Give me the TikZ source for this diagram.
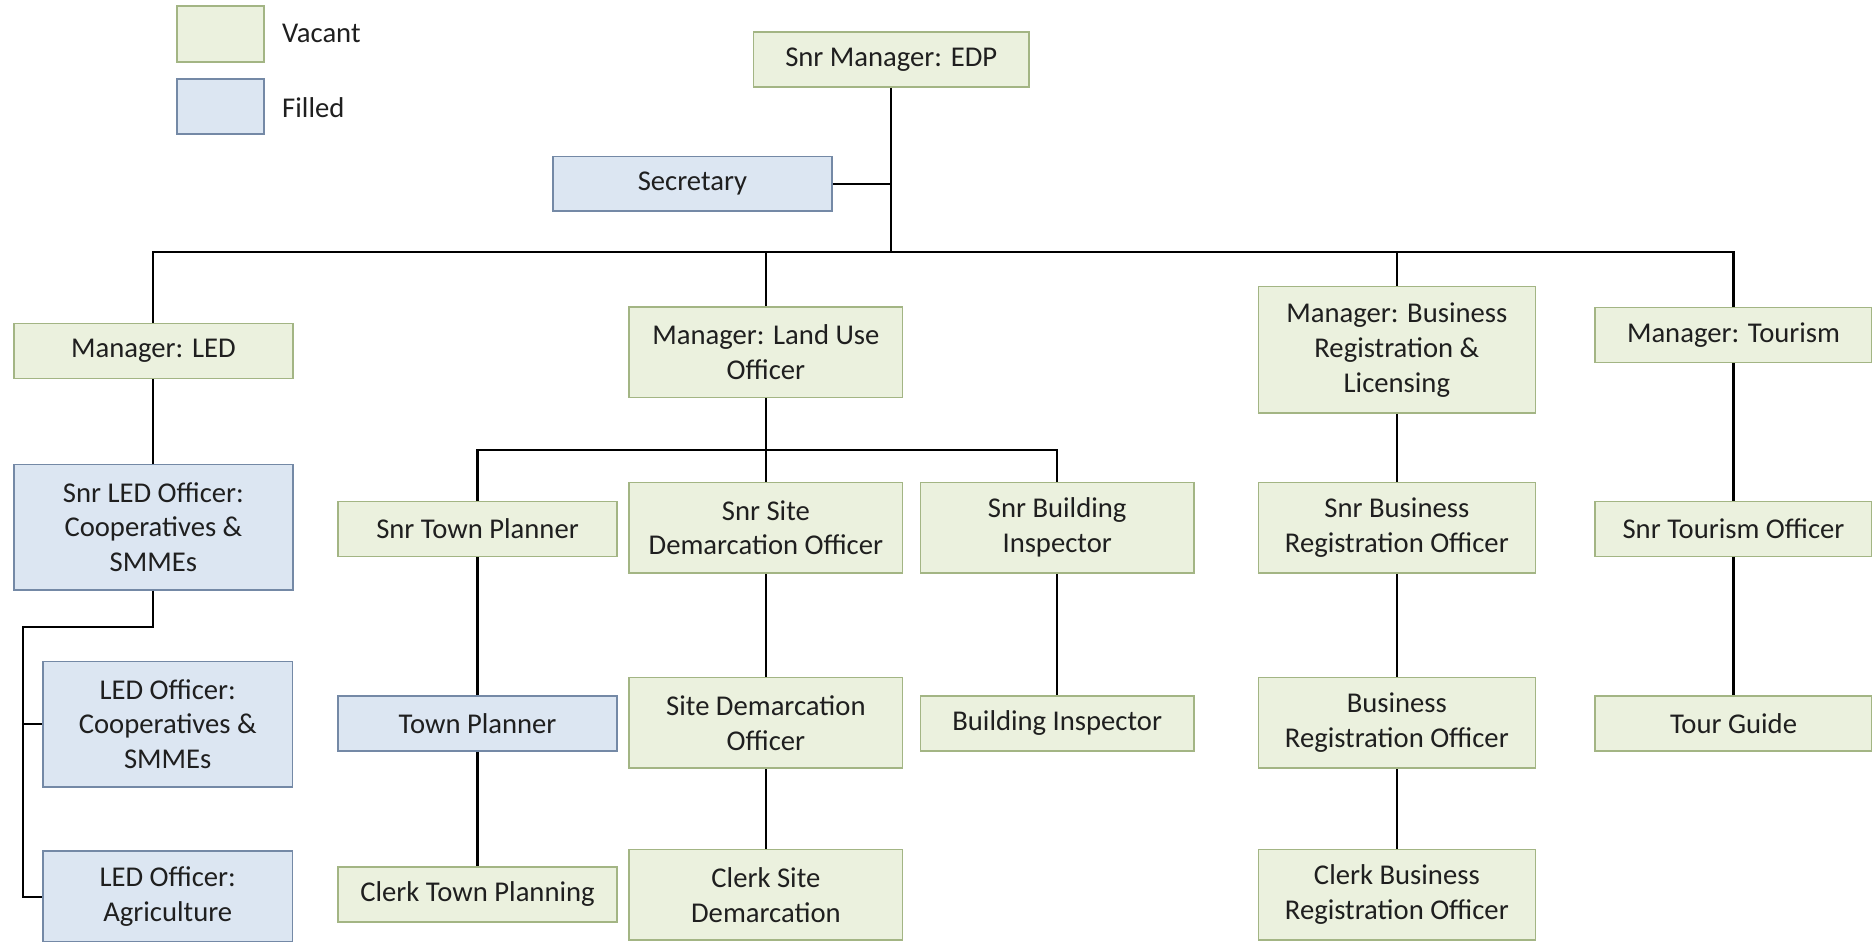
\documentclass[tikz,border=0pt]{standalone}
\usepackage{fontspec}
\setmainfont{Carlito}
\definecolor{vacfill}{HTML}{EBF1DE}
\definecolor{vacdraw}{HTML}{A3B584}
\definecolor{filfill}{HTML}{DCE6F2}
\definecolor{fildraw}{HTML}{7489A6}
\definecolor{txt}{HTML}{1F1F1F}
\begin{document}
\begin{tikzpicture}[x=0.5pt,y=-0.5pt,
  every node/.style={font=\fontsize{12}{14.6}\selectfont, text=txt},
  box/.style={rectangle, inner sep=0pt, align=center, line width=0.7pt},
  vac/.style={box, draw=vacdraw, fill=vacfill},
  fil/.style={box, draw=fildraw, fill=filfill},
  w1/.style={minimum width=117pt},
  w2/.style={minimum width=114.5pt},
  h1/.style={minimum height=23pt},
  h2/.style={minimum height=38pt},
  h3/.style={minimum height=53pt},
  conn/.style={draw=black, line width=0.9pt}]
\useasboundingbox (0,0) rectangle (1568,789);
\fill[white] (0,0) rectangle (1568,789);

% legend
\node[vac, minimum width=36.5pt, minimum height=23.5pt] (lv) at (184.5,28.5) {};
\node[fil, minimum width=36.5pt, minimum height=23pt] (lf) at (184.5,89) {};
\node[anchor=west, inner sep=0pt] (lvt) at (236,28) {Vacant};
\node[anchor=west, inner sep=0pt] (lft) at (236,90) {Filled};

% top
\node[vac, minimum width=115.5pt, h1] (edp) at (746.5,50) {Snr Manager: EDP};
\node[fil, w1, h1] (sec) at (580,154) {Secretary};

% managers
\node[vac, w1, h1] (mled) at (128.5,294) {Manager: LED};
\node[vac, w2, h2] (mlu) at (641.5,295) {Manager: Land Use\\Officer};
\node[vac, minimum width=116pt, h3] (mbr) at (1170,293) {Manager: Business\\Registration \&\\Licensing};
\node[vac, minimum width=116pt, h1] (mtour) at (1452,280.5) {Manager: Tourism};

% LED column
\node[fil, w1, minimum height=52.5pt] (sled) at (128.5,441.5) {Snr LED Officer:\\Cooperatives \&\\SMMEs};
\node[fil, minimum width=104.5pt, minimum height=52.5pt] (ledc) at (140.5,606.5) {LED Officer:\\Cooperatives \&\\SMMEs};
\node[fil, minimum width=104.5pt, minimum height=38pt] (leda) at (140.5,751) {LED Officer:\\Agriculture};

% Land use columns
\node[vac, w1, h1] (stp) at (400,443) {Snr Town Planner};
\node[vac, w2, h2] (ssd) at (641.5,442) {Snr Site\\Demarcation Officer};
\node[vac, w2, h2] (sbi) at (885.5,442) {Snr Building\\Inspector};
\node[fil, w1, h1] (tp) at (400,606) {Town Planner};
\node[vac, w2, h2] (sdo) at (641.5,605.5) {Site Demarcation\\Officer};
\node[vac, w2, h1] (bi) at (885.5,606) {Building Inspector};
\node[vac, w1, h1] (ctp) at (400,749) {Clerk Town Planning};
\node[vac, w2, h2] (csd) at (641.5,749.5) {Clerk Site\\Demarcation};

% Business column
\node[vac, minimum width=116pt, h2] (sbr) at (1170,442) {Snr Business\\Registration Officer};
\node[vac, minimum width=116pt, h2] (br) at (1170,605.5) {Business\\Registration Officer};
\node[vac, minimum width=116pt, h2] (cbr) at (1170,749.5) {Clerk Business\\Registration Officer};

% Tourism column
\node[vac, minimum width=116pt, h1] (sto) at (1452,443) {Snr Tourism Officer};
\node[vac, minimum width=116pt, h1] (tg) at (1452,606) {Tour Guide};

% connectors
\coordinate (bus) at (746.5,211);
\coordinate (secj) at (746.5,154);
\draw[conn] (edp.south) -- (bus);
\draw[conn] (sec.east) -- (secj);
\draw[conn] (mled.north) -- (mled.north |- bus) -- (mtour.north |- bus) -- (mtour.north);
\draw[conn] (mlu.north) -- (mlu.north |- bus);
\draw[conn] (mbr.north) -- (mbr.north |- bus);

\draw[conn] (mled.south) -- (sled.north);
\coordinate (ledj) at (128.5,525);
\coordinate (ledl) at (19,525);
\draw[conn] (sled.south) -- (ledj) -- (ledl) |- (leda.west);
\draw[conn] (ledl |- ledc.west) -- (ledc.west);

\coordinate (lub) at (641.5,377);
\draw[conn] (mlu.south) -- (lub);
\draw[conn] (stp.north) -- (stp.north |- lub) -- (sbi.north |- lub) -- (sbi.north);
\draw[conn] (lub) -- (ssd.north);
\draw[conn] (stp.south) -- (tp.north);
\draw[conn] (tp.south) -- (ctp.north);
\draw[conn] (ssd.south) -- (sdo.north);
\draw[conn] (sdo.south) -- (csd.north);
\draw[conn] (sbi.south) -- (bi.north);

\draw[conn] (mbr.south) -- (sbr.north);
\draw[conn] (sbr.south) -- (br.north);
\draw[conn] (br.south) -- (cbr.north);

\draw[conn] (mtour.south) -- (sto.north);
\draw[conn] (sto.south) -- (tg.north);
\end{tikzpicture}
\end{document}
